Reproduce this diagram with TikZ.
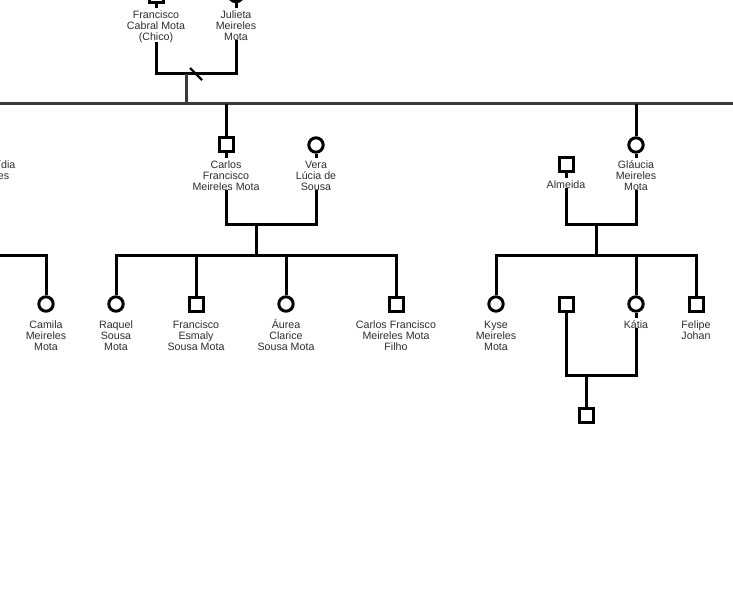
\documentclass[tikz,border=0pt]{standalone}
\usepackage{fontspec}
\setmainfont{Liberation Sans}
\definecolor{mainline}{HTML}{3A3A3A}
\definecolor{txt}{HTML}{2E2E2E}
\newcommand\tstr{\rule{0pt}{8pt}}
\pgfdeclarelayer{background}
\pgfsetlayers{background,main}
\begin{document}
\begin{tikzpicture}[x=0.75pt,y=-0.75pt,
  rel/.style={line width=2.25pt, draw=black},
  male/.style={draw, rectangle, line width=2.25pt, minimum size=10.5pt, inner sep=0pt, fill=white},
  female/.style={draw, circle, line width=2.25pt, minimum size=10.8pt, inner sep=0pt, fill=white},
  lbl/.style={align=center, anchor=north, inner sep=0pt, fill=white, text=txt,
    font=\fontsize{8}{8.25}\selectfont},
]
\useasboundingbox (0,0) rectangle (733,592);
\clip (0,0) rectangle (733,592);

% ---------- top couple ----------
\node[male]   (fc) at (156,-4.5) {};
\node[female] (jm) at (236,-5.5) {};
\node[lbl] (fcl) at (156,7.3) {\tstr Francisco\\Cabral Mota\\(Chico)};
\node[lbl] (jml) at (236,7.3) {\tstr Julieta\\Meireles\\Mota};
\coordinate (m0) at (186,74);
\coordinate (mL) at (0,104);
\coordinate (mR) at (733,104);
\coordinate (d1) at (190,68);
\coordinate (d2) at (202,80);

% ---------- left (cut off) ----------
\node[lbl] (ll) at (-11,157.3) {\tstr Maria Lídia\\Meireles};
\coordinate (sL) at (0,255);
\node[female] (ca) at (46,304) {};
\node[lbl] (cal) at (46,317.3) {\tstr Camila\\Meireles\\Mota};

% ---------- Carlos + Vera ----------
\node[male]   (cf) at (226,145) {};
\node[lbl] (cfl) at (226,157.3) {\tstr Carlos\\Francisco\\Meireles Mota};
\node[female] (vs) at (316,145) {};
\node[lbl] (vsl) at (316,157.3) {\tstr Vera\\Lúcia de\\Sousa};
\coordinate (m1) at (256,225);
\coordinate (s1) at (256,255);
\node[female] (ra) at (116,304) {};
\node[lbl] (ral) at (116,317.3) {\tstr Raquel\\Sousa\\Mota};
\node[male]   (fe) at (196,304) {};
\node[lbl] (fel) at (196,317.3) {\tstr Francisco\\Esmaly\\Sousa Mota};
\node[female] (au) at (286,304) {};
\node[lbl] (aul) at (286,317.3) {\tstr Áurea\\Clarice\\Sousa Mota};
\node[male]   (cff) at (396,304) {};
\node[lbl] (cffl) at (396,317.3) {\tstr Carlos Francisco\\Meireles Mota\\Filho};

% ---------- Almeida + Gláucia ----------
\node[male]   (al) at (566,165) {};
\node[lbl] (all) at (566,177.3) {\tstr Almeida};
\node[female] (gl) at (636,145) {};
\node[lbl] (gll) at (636,157.3) {\tstr Gláucia\\Meireles\\Mota};
\coordinate (m2) at (596,225);
\coordinate (s3) at (596,255);
\node[female] (ky) at (496,304) {};
\node[lbl] (kyl) at (496,317.3) {\tstr Kyse\\Meireles\\Mota};
\node[male]   (sp) at (566,304) {};
\node[female] (ka) at (636,304) {};
\node[lbl] (kal) at (636,317.3) {\tstr Kátia};
\node[male]   (fj) at (696,304) {};
\node[lbl] (fjl) at (696,317.3) {\tstr Felipe\\Johan};
\coordinate (m3) at (586,375);
\node[male]   (gc) at (586,415) {};

\begin{pgfonlayer}{background}
  % top couple
  \draw[rel] (fc.south) |- (m0) -| (jm.south);
  \draw[rel, line width=1.8pt] (d1) -- (d2);
  \draw[rel, draw=mainline] (m0) -- (m0 |- mL);
  \draw[rel, draw=mainline] (mL) -- (mR);
  % left branch
  \draw[rel] (sL) -| (ca.north);
  % Carlos + Vera
  \draw[rel] (cf |- mL) -- (cf.north);
  \draw[rel] (cf.south) |- (m1) -| (vs.south);
  \draw[rel] (m1) -- (s1);
  \draw[rel] (ra.north) |- (s1) -| (cff.north);
  \draw[rel] (fe |- s1) -- (fe.north);
  \draw[rel] (au |- s1) -- (au.north);
  % Almeida + Gláucia
  \draw[rel] (gl |- mL) -- (gl.north);
  \draw[rel] (al.south) |- (m2) -| (gl.south);
  \draw[rel] (m2) -- (s3);
  \draw[rel] (ky.north) |- (s3) -| (fj.north);
  \draw[rel] (ka |- s3) -- (ka.north);
  % Kátia + spouse
  \draw[rel] (sp.south) |- (m3) -| (ka.south);
  \draw[rel] (m3) -- (gc.north);
\end{pgfonlayer}
\end{tikzpicture}
\end{document}
